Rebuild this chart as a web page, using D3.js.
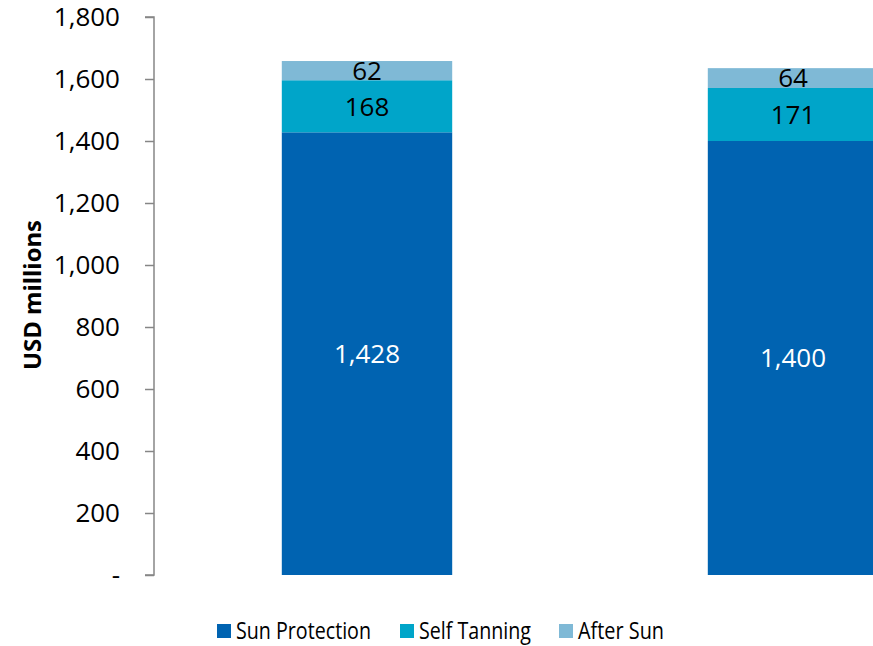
<!DOCTYPE html>
<html>
<head>
<meta charset="utf-8">
<script src="https://cdn.jsdelivr.net/npm/d3@7"></script>
<style>
  html, body { margin: 0; padding: 0; background: #fff; overflow: hidden; }
  svg { display: block; font-family: "Open Sans", "Noto Sans", sans-serif; }
</style>
</head>
<body>
<div id="chart"></div>
<script>
// Category order and stacked series
const categories = ["Year 1", "Year 2"];
const seriesNames = ["Sun Protection", "Self Tanning", "After Sun"];
const sunProtection = [1428, 1400];
const selfTanning = [168, 171];
const afterSun = [62, 64];
const yTicks = [0, 200, 400, 600, 800, 1000, 1200, 1400, 1600, 1800];
const colors = ["#0063B1", "#00A5C9", "#7FB9D6"];
const labelColors = ["#ffffff", "#000000", "#000000"];

const W = 873, H = 646;
const svg = d3.select("#chart").append("svg").attr("width", W).attr("height", H);

const rows = categories.map((c, i) => ({
  category: c,
  "Sun Protection": sunProtection[i],
  "Self Tanning": selfTanning[i],
  "After Sun": afterSun[i]
}));
const stacked = d3.stack().keys(seriesNames)(rows);

const x0 = 154, step = 426;
const x = d3.scaleBand()
  .domain(categories)
  .range([x0, x0 + step * categories.length])
  .paddingInner(0.6)
  .paddingOuter(0.3);

const y = d3.scaleLinear().domain([0, 1800]).range([575, 17]);

const fmt = d3.format(",");

// Bars
const layer = svg.selectAll("g.layer").data(stacked).join("g")
  .attr("class", "layer")
  .attr("fill", (d, i) => colors[i]);
layer.selectAll("rect").data(d => d).join("rect")
  .attr("x", d => x(d.data.category))
  .attr("width", x.bandwidth())
  .attr("y", d => y(d[1]))
  .attr("height", d => y(d[0]) - y(d[1]));

// Segment value labels
stacked.forEach((s, si) => {
  svg.append("g").selectAll("text").data(s).join("text")
    .attr("x", d => x(d.data.category) + x.bandwidth() / 2)
    .attr("y", d => (y(d[0]) + y(d[1])) / 2)
    .attr("dy", "0.36em")
    .attr("text-anchor", "middle")
    .attr("font-size", 26)
    .attr("fill", labelColors[si])
    .text(d => fmt(d[1] - d[0]));
});

// Y axis
const yAxis = d3.axisLeft(y)
  .tickValues(yTicks)
  .tickSize(9)
  .tickPadding(25)
  .tickFormat(v => v === 0 ? "-" : fmt(v));
const ga = svg.append("g").attr("transform", `translate(${x0},0)`).call(yAxis);
ga.select(".domain").attr("stroke", "#868686").attr("stroke-width", 1.5)
  .attr("d", `M-9,${y(1800)}H0V${y(0)}H-9`);
ga.selectAll(".tick line").attr("stroke", "#868686").attr("stroke-width", 1.5);
ga.selectAll(".tick text").attr("font-size", 26).attr("fill", "#000")
  .attr("font-family", "'Open Sans', 'Noto Sans', sans-serif");

// Y axis title
svg.append("text")
  .attr("transform", `translate(41,295) rotate(-90)`)
  .attr("text-anchor", "middle")
  .attr("font-size", 24)
  .attr("font-weight", "bold")
  .attr("fill", "#000")
  .attr("textLength", 150)
  .attr("lengthAdjust", "spacingAndGlyphs")
  .text("USD millions");

// Legend
const legendX = [217, 400, 559];
const legendLen = [135, 112, 86];
const lg = svg.append("g").selectAll("g").data(seriesNames).join("g")
  .attr("transform", (d, i) => `translate(${legendX[i]},624)`);
lg.append("rect").attr("width", 14).attr("height", 14).attr("fill", (d, i) => colors[i]);
lg.append("text").attr("x", 19).attr("y", 15)
  .attr("font-size", 24).attr("fill", "#000")
  .attr("textLength", (d, i) => legendLen[i])
  .attr("lengthAdjust", "spacingAndGlyphs")
  .text(d => d);
</script>
</body>
</html>
